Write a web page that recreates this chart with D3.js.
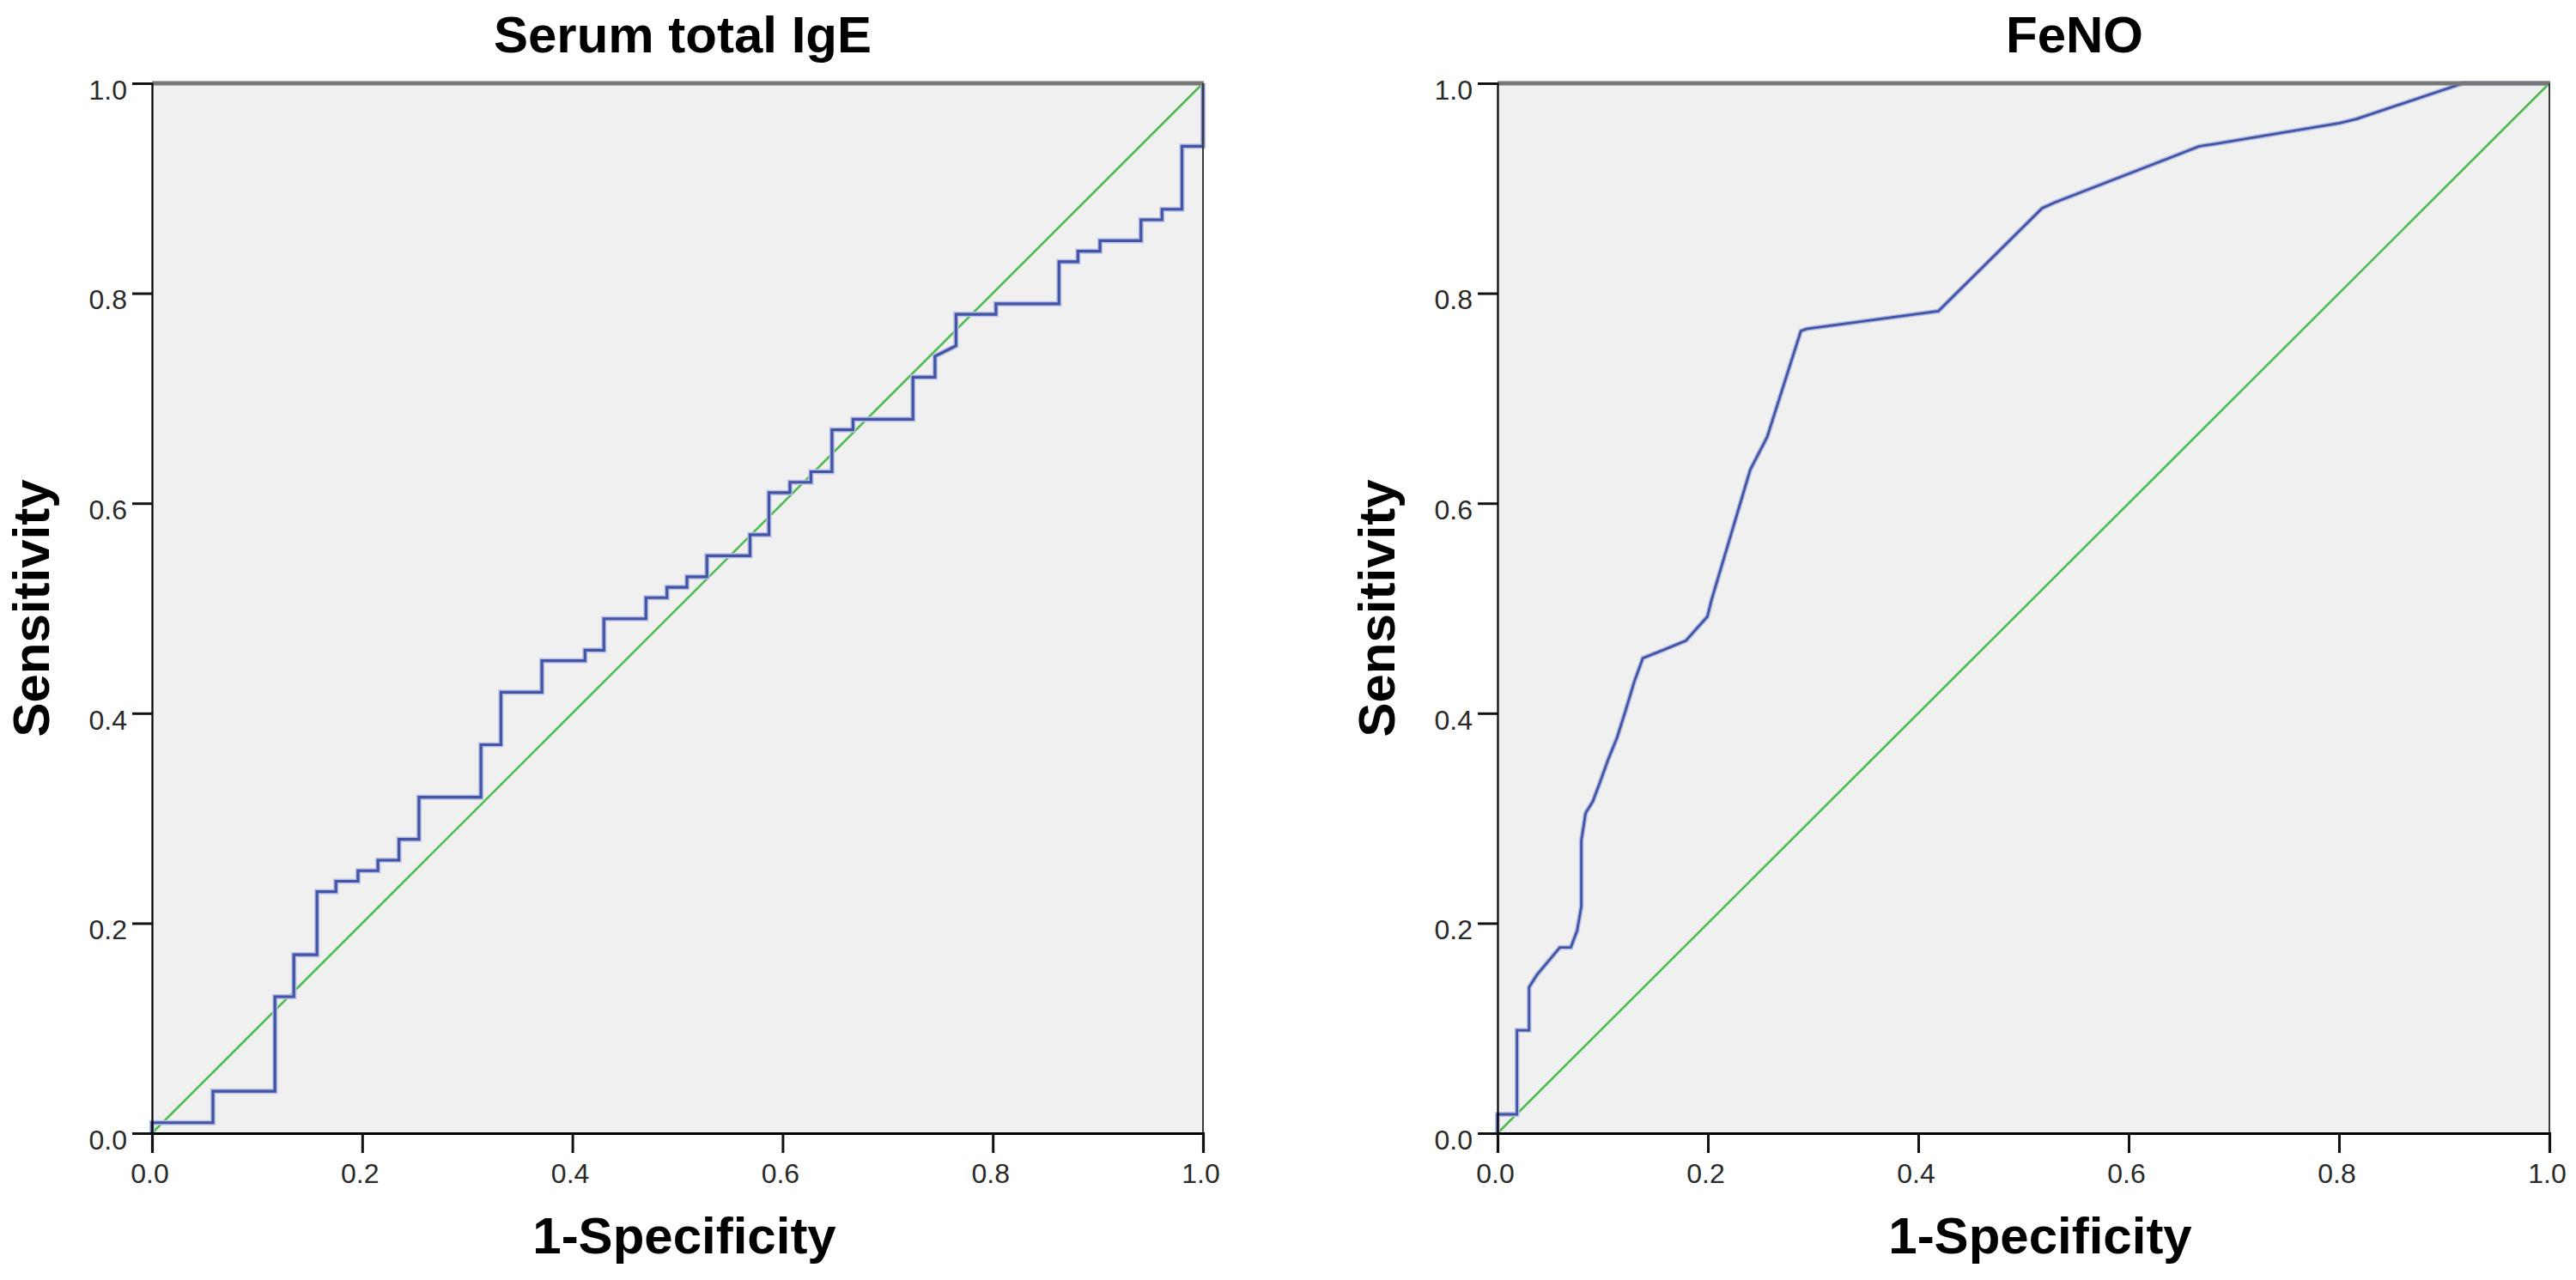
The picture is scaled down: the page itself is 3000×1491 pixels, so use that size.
<!DOCTYPE html>
<html>
<head>
<meta charset="utf-8">
<script src="https://cdn.jsdelivr.net/npm/d3@7/dist/d3.min.js"></script>
<style>
  html, body { margin: 0; padding: 0; background: #ffffff; }
  svg { display: block; }
</style>
</head>
<body>
<svg id="chart" width="3000" height="1491"></svg>
<script>
// ---------------- data ----------------
const panelTitles = ["Serum total IgE", "FeNO"];
const xAxisTitle = "1-Specificity";
const yAxisTitle = "Sensitivity";
const tickValues = [0.0, 0.2, 0.4, 0.6, 0.8, 1.0];

// Serum total IgE ROC curve (step vertices)
const igeFpr = [0, 0, 0.058, 0.058, 0.117, 0.117, 0.135, 0.135, 0.157, 0.157, 0.175, 0.175,
  0.196, 0.196, 0.215, 0.215, 0.235, 0.235, 0.254, 0.254, 0.313, 0.313, 0.332, 0.332,
  0.371, 0.371, 0.412, 0.412, 0.430, 0.430, 0.470, 0.470, 0.490, 0.490, 0.509, 0.509,
  0.528, 0.528, 0.569, 0.569, 0.587, 0.587, 0.607, 0.607, 0.627, 0.627, 0.647, 0.647,
  0.667, 0.667, 0.724, 0.724, 0.745, 0.745, 0.765, 0.765, 0.803, 0.803, 0.863, 0.863,
  0.881, 0.881, 0.902, 0.902, 0.941, 0.941, 0.961, 0.961, 0.980, 0.980, 1.0, 1.0];
const igeTpr = [0, 0.01, 0.01, 0.04, 0.04, 0.13, 0.13, 0.17, 0.17, 0.23, 0.23, 0.24,
  0.24, 0.25, 0.25, 0.26, 0.26, 0.28, 0.28, 0.32, 0.32, 0.37, 0.37, 0.42,
  0.42, 0.45, 0.45, 0.46, 0.46, 0.49, 0.49, 0.51, 0.51, 0.52, 0.52, 0.53,
  0.53, 0.55, 0.55, 0.57, 0.57, 0.61, 0.61, 0.62, 0.62, 0.63, 0.63, 0.67,
  0.67, 0.68, 0.68, 0.72, 0.72, 0.74, 0.75, 0.78, 0.78, 0.79, 0.79, 0.83,
  0.83, 0.84, 0.84, 0.85, 0.85, 0.87, 0.87, 0.88, 0.88, 0.94, 0.94, 1.0];

// FeNO ROC curve
const fenoFpr = [0, 0, 0.0185, 0.0185, 0.030, 0.030, 0.0376, 0.0593, 0.0697, 0.0757, 0.0797,
  0.0797, 0.0838, 0.0906, 0.0988, 0.1056, 0.1137, 0.1219, 0.130, 0.1382, 0.1546, 0.179,
  0.1995, 0.2035, 0.2403, 0.2563, 0.2884, 0.2937, 0.4191, 0.5178, 0.531, 0.6672, 0.681,
  0.8006, 0.8166, 0.918, 1.0];
const fenoTpr = [0, 0.018, 0.018, 0.098, 0.098, 0.139, 0.151, 0.177, 0.177, 0.193, 0.216,
  0.279, 0.305, 0.316, 0.338, 0.357, 0.377, 0.403, 0.430, 0.4525, 0.459, 0.469,
  0.492, 0.508, 0.632, 0.663, 0.764, 0.766, 0.783, 0.881, 0.887, 0.940, 0.942,
  0.962, 0.966, 1.0, 1.0];

// reference (chance) line
const refFpr = [0, 1];
const refTpr = [0, 1];

// ---------------- layout / style ----------------
const panels = [
  { title: panelTitles[0], fpr: igeFpr, tpr: igeTpr, x0: 177, x1: 1401, titleX: 795, xTitleX: 797, curveW: 3.2 },
  { title: panelTitles[1], fpr: fenoFpr, tpr: fenoTpr, x0: 1744, x1: 2969, titleX: 2416, xTitleX: 2376, curveW: 2.8 }
];
const yTop = 97, yBottom = 1320;
const bold = "'Liberation Sans', Arial, Helvetica, sans-serif";

const svg = d3.select("#chart");

panels.forEach(p => {
  const x = d3.scaleLinear().domain([0, 1]).range([p.x0, p.x1]);
  const y = d3.scaleLinear().domain([0, 1]).range([yBottom, yTop]);
  const g = svg.append("g");

  // plot background
  g.append("rect")
    .attr("x", x(0)).attr("y", y(1))
    .attr("width", x(1) - x(0)).attr("height", y(0) - y(1))
    .attr("fill", "#f0f0f0");

  const line = d3.line().x(d => x(d[0])).y(d => y(d[1]));

  // reference line
  const ref = refFpr.map((v, i) => [v, refTpr[i]]);
  g.append("path").datum(ref)
    .attr("d", line).attr("fill", "none")
    .attr("stroke", "#4cbc4c").attr("stroke-width", 2.6);

  // ROC curve (soft halo + core)
  const pts = p.fpr.map((v, i) => [v, p.tpr[i]]);
  g.append("path").datum(pts)
    .attr("d", line).attr("fill", "none")
    .attr("stroke", "#b9c1e2").attr("stroke-width", p.curveW + 3)
    .attr("stroke-linejoin", "miter");
  g.append("path").datum(pts)
    .attr("d", line).attr("fill", "none")
    .attr("stroke", "#4354a6").attr("stroke-width", p.curveW)
    .attr("stroke-linejoin", "miter");

  // frame: top (thick gray) and right border
  g.append("line")
    .attr("x1", x(0)).attr("x2", x(1) + 1)
    .attr("y1", y(1)).attr("y2", y(1))
    .attr("stroke", "#777777").attr("stroke-width", 5);
  g.append("line")
    .attr("x1", x(1)).attr("x2", x(1))
    .attr("y1", y(1)).attr("y2", y(0))
    .attr("stroke", "#3a3a3a").attr("stroke-width", 2);

  // axes
  const fmt = d3.format(".1f");
  const yAxis = g.append("g")
    .attr("transform", `translate(${x(0)},0)`)
    .call(d3.axisLeft(y).tickValues(tickValues).tickFormat(fmt).tickSize(23).tickPadding(6));
  yAxis.select(".domain").attr("stroke", "#000").attr("stroke-width", 2.2);
  yAxis.selectAll(".tick line").attr("stroke", "#111").attr("stroke-width", 3);
  yAxis.selectAll(".tick text")
    .attr("dy", "0.57em")
    .style("font-family", bold).style("font-size", "32px").attr("fill", "#2a2a2a");

  const xAxis = g.append("g")
    .attr("transform", `translate(0,${y(0)})`)
    .call(d3.axisBottom(x).tickValues(tickValues).tickFormat(fmt).tickSize(23).tickPadding(12));
  xAxis.select(".domain").attr("stroke", "#000").attr("stroke-width", 3.2);
  xAxis.selectAll(".tick line").attr("stroke", "#111").attr("stroke-width", 3);
  xAxis.selectAll(".tick text")
    .attr("dx", -3)
    .style("font-family", bold).style("font-size", "32px").attr("fill", "#2a2a2a");

  // panel title
  g.append("text")
    .attr("x", p.titleX).attr("y", 61)
    .attr("text-anchor", "middle")
    .style("font-family", bold).style("font-weight", "bold").style("font-size", "60px")
    .attr("fill", "#000")
    .text(p.title);

  // x axis title
  g.append("text")
    .attr("x", p.xTitleX).attr("y", 1460)
    .attr("text-anchor", "middle")
    .style("font-family", bold).style("font-weight", "bold").style("font-size", "60px")
    .attr("fill", "#000")
    .text(xAxisTitle);

  // y axis title
  const yc = (y(0) + y(1)) / 2;
  g.append("text")
    .attr("transform", `translate(${x(0) - 120},${yc}) rotate(-90)`)
    .attr("text-anchor", "middle")
    .style("font-family", bold).style("font-weight", "bold").style("font-size", "60px")
    .attr("fill", "#000")
    .text(yAxisTitle);
});
</script>
</body>
</html>
